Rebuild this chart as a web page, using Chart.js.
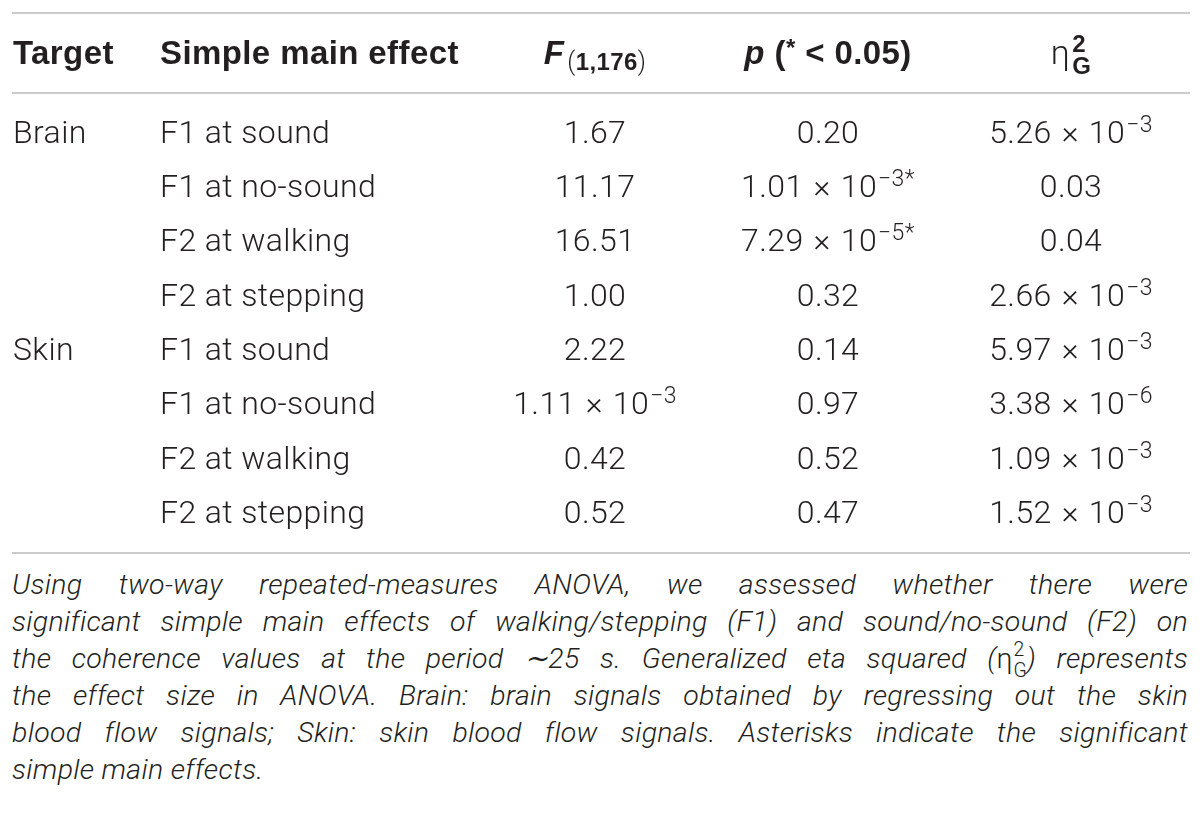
<!DOCTYPE html>
<html>
<head>
<meta charset="utf-8">
<title>Simple main effects</title>
<script src="https://cdn.jsdelivr.net/npm/chart.js@4.4.1/dist/chart.umd.min.js"></script>
<style>
  html, body { margin: 0; padding: 0; background: #fff; }
  body { width: 1200px; height: 828px; position: relative; overflow: hidden; }
  #table-wrap { position: absolute; left: 0; top: 0; width: 1200px; height: 566px; }
  #caption {
    position: absolute; left: 12px; top: 566px; width: 1176px;
    font-family: Roboto, "Liberation Sans", sans-serif; font-weight: 300; font-style: italic;
    font-size: 28.5px; line-height: 37px; color: #231f20; letter-spacing: 0.3px;
  }
  #caption .ln { text-align: justify; text-align-last: justify; }
  #caption .ln.last { text-align-last: left; }
  .eta { font-style: normal; white-space: nowrap; }
  .eta .up, .eta .dn { font-size: 0.68em; line-height: 0; position: relative; letter-spacing: 0; }
  .eta .up { top: -0.62em; margin-left: 1px; }
  .eta .dn { top: 0.47em; margin-left: -0.56em; }
</style>
</head>
<body>
<div id="table-wrap"><canvas id="chart"></canvas></div>
<div id="caption">
  <div class="ln">Using two-way repeated-measures ANOVA, we assessed whether there were</div>
  <div class="ln">significant simple main effects of walking/stepping (F1) and sound/no-sound (F2) on</div>
  <div class="ln">the coherence values at the period ∼25 s. Generalized eta squared (<span class="eta">η<span class="up">2</span><span class="dn">G</span></span>) represents</div>
  <div class="ln">the effect size in ANOVA. Brain: brain signals obtained by regressing out the skin</div>
  <div class="ln">blood flow signals; Skin: skin blood flow signals. Asterisks indicate the significant</div>
  <div class="ln last">simple main effects.</div>
</div>
<script>
// table content
const rowTargets = ['Brain', '', '', '', 'Skin', '', '', ''];
const rowEffects = ['F1 at sound', 'F1 at no-sound', 'F2 at walking', 'F2 at stepping',
  'F1 at sound', 'F1 at no-sound', 'F2 at walking', 'F2 at stepping'];
const fValues = [1.67, 11.17, 16.51, 1.00, 2.22, 1.11e-3, 0.42, 0.52];
const pValues = [0.20, 1.01e-3, 7.29e-5, 0.32, 0.14, 0.97, 0.52, 0.47];
const etaValues = [5.26e-3, 0.03, 0.04, 2.66e-3, 5.97e-3, 3.38e-6, 1.09e-3, 1.52e-3];
const alpha = 0.05;

// layout: column anchors in table units, rows on a linear y scale (row index)
const colX = [1, 148, 583, 816, 1059];
const colAlign = ['left', 'left', 'center', 'center', 'center'];
const headerRow = -1.45;
const ruleRows = [-2.17, -0.70, 7.76];

const TEXT_COLOR = '#231f20';
const RULE_COLOR = '#cbcbcb';
const BASE = 32;
const LIGHT = '300 ' + BASE + 'px Roboto, "Liberation Sans", sans-serif';
const SUP = '300 23px Roboto, "Liberation Sans", sans-serif';
const BOLD = 'bold 33px "Liberation Sans", Arial, sans-serif';
const BOLD_IT = 'italic bold 33px "Liberation Sans", Arial, sans-serif';
const SUB_BOLD = 'bold 24px "Liberation Sans", Arial, sans-serif';
const SUB_LIGHT = '300 25px Roboto, "Liberation Sans", sans-serif';
const SUP_RISE = 11;

const headerCells = [
  [{ text: 'Target', font: BOLD }],
  [{ text: 'Simple main effect', font: BOLD }],
  [{ text: 'F', font: BOLD_IT },
   { text: '(', font: SUB_LIGHT, rise: -6, gap: 3 },
   { text: '1,176', font: SUB_BOLD, rise: -6 },
   { text: ')', font: SUB_LIGHT, rise: -6 }],
  [{ text: 'p', font: BOLD_IT },
   { text: ' (', font: BOLD },
   { text: '*', font: SUB_BOLD, rise: 8 },
   { text: ' < 0.05)', font: BOLD }],
  [{ text: 'η', font: '300 34px Roboto, sans-serif' },
   { stack: [{ text: '2', font: SUB_BOLD, rise: 12 }, { text: 'G', font: SUB_BOLD, rise: -10 }], gap: 2 }]
];

function numSegs(v, star) {
  let segs;
  if (v < 0.01) {
    const parts = v.toExponential(2).split('e');
    segs = [{ text: parts[0], font: LIGHT },
            { text: '×', font: LIGHT, gap: 10 },
            { text: '10', font: LIGHT, gap: 10 },
            { text: parts[1].replace('-', '−'), font: SUP, rise: SUP_RISE, gap: 1 }];
  } else {
    segs = [{ text: v.toFixed(2), font: LIGHT }];
  }
  if (star) segs.push({ text: '*', font: SUP, rise: SUP_RISE });
  return segs;
}

function cellSegs(c, i) {
  if (c === 0) return [{ text: rowTargets[i], font: LIGHT }];
  if (c === 1) return [{ text: rowEffects[i], font: LIGHT }];
  if (c === 2) return numSegs(fValues[i], false);
  if (c === 3) return numSegs(pValues[i], pValues[i] < alpha);
  return numSegs(etaValues[i], false);
}

function drawRich(ctx, segs, x, y, align) {
  ctx.save();
  ctx.fillStyle = TEXT_COLOR;
  ctx.textBaseline = 'alphabetic';
  ctx.letterSpacing = '0.4px';
  let total = 0;
  segs.forEach(s => {
    const parts = s.stack || [s];
    s.w = Math.max.apply(null, parts.map(t => { ctx.font = t.font; return ctx.measureText(t.text).width; }));
    total += s.w + (s.gap || 0);
  });
  let cx = align === 'center' ? x - total / 2 : x;
  const base = y + BASE * 0.36;
  segs.forEach(s => {
    cx += s.gap || 0;
    (s.stack || [s]).forEach(t => {
      ctx.font = t.font;
      ctx.fillText(t.text, cx, base - (t.rise || 0));
    });
    cx += s.w;
  });
  ctx.restore();
}

const tableCells = {
  id: 'tableCells',
  afterDatasetsDraw(chart) {
    const ctx = chart.ctx;
    const xs = chart.scales.x, ys = chart.scales.y;
    const area = chart.chartArea;

    ctx.save();
    ctx.strokeStyle = RULE_COLOR;
    ctx.lineWidth = 2;
    ruleRows.forEach(r => {
      const py = Math.round(ys.getPixelForValue(r));
      ctx.beginPath();
      ctx.moveTo(area.left, py);
      ctx.lineTo(area.right, py);
      ctx.stroke();
    });
    ctx.restore();

    const hy = ys.getPixelForValue(headerRow);
    headerCells.forEach((segs, c) => drawRich(ctx, segs, xs.getPixelForValue(colX[c]), hy, colAlign[c]));

    chart.data.datasets.forEach((ds, c) => {
      chart.getDatasetMeta(c).data.forEach((pt, i) => {
        drawRich(ctx, cellSegs(c, i), pt.x, pt.y, colAlign[c]);
      });
    });
  }
};

const datasets = colX.map((x, c) => ({
  label: 'col' + c,
  data: rowEffects.map((_, i) => ({ x: x, y: i })),
  pointRadius: 0,
  pointHoverRadius: 0,
  showLine: false
}));

new Chart(document.getElementById('chart'), {
  type: 'scatter',
  data: { datasets: datasets },
  options: {
    responsive: true,
    maintainAspectRatio: false,
    animation: false,
    events: [],
    layout: { padding: { left: 12, right: 10, top: 13, bottom: 13 } },
    plugins: { legend: { display: false }, tooltip: { enabled: false } },
    scales: {
      x: { type: 'linear', display: false, min: 0, max: 1178 },
      y: { type: 'linear', display: false, reverse: true, min: ruleRows[0], max: ruleRows[2] }
    }
  },
  plugins: [tableCells]
});

// keep each caption line on one line (offsetHeight ignores the shifted sub/sup)
document.querySelectorAll('#caption .ln').forEach(ln => {
  let ls = 0.3;
  while (ln.offsetHeight > 40 && ls > -1.5) {
    ls -= 0.05;
    ln.style.letterSpacing = ls + 'px';
  }
});
</script>
</body>
</html>
